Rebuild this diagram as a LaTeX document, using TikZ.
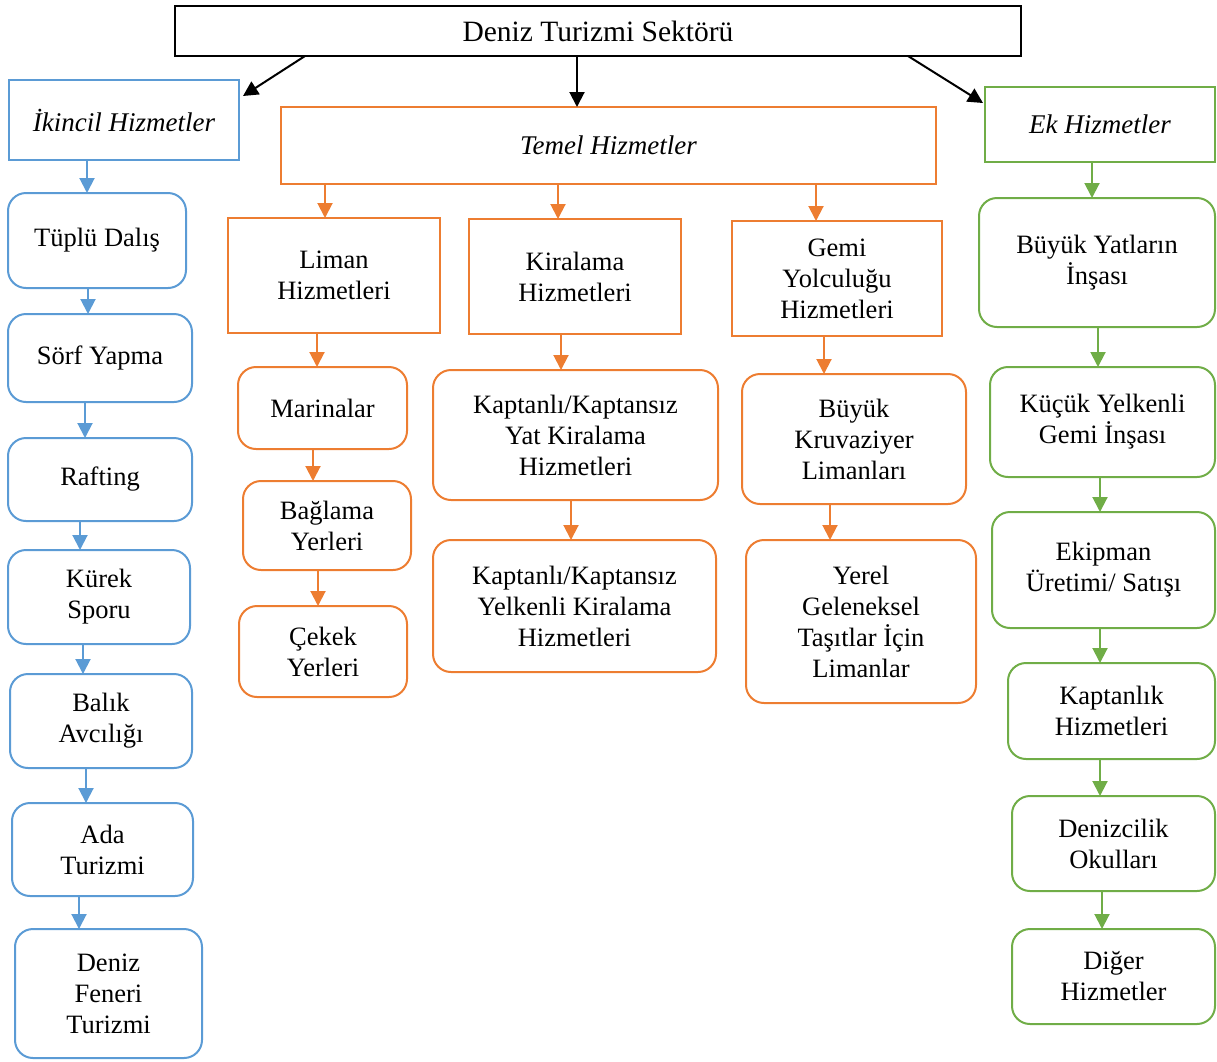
\documentclass[tikz,border=0pt]{standalone}
\usepackage{fontspec}
\setmainfont{Liberation Serif}
\usetikzlibrary{arrows.meta}

\definecolor{secBlue}{HTML}{5B9BD5}
\definecolor{coreOrange}{HTML}{ED7D31}
\definecolor{extraGreen}{HTML}{70AD47}

% box given by its left, top, right and bottom edges
\newcommand\placebox[7]{%
  \pgfmathsetmacro\boxW{#5-#3}\pgfmathsetmacro\boxH{#6-#4}%
  \pgfmathsetmacro\boxX{(#3+#5)/2}\pgfmathsetmacro\boxY{(#4+#6)/2}%
  \node[#2, minimum width=\boxW pt, minimum height=\boxH pt] (#1) at (\boxX,\boxY) {#7};}
% vertical connector below a box, shifted sideways from its centre
\newcommand\vlink[4]{\draw[#1] ([xshift=#4pt]#2.south) -- ([xshift=#4pt]#2.south |- #3.north);}

\tikzset{
  basebox/.style={draw, line width=2pt, align=center, inner sep=0pt, outer sep=0pt,
    font=\fontsize{26.5}{31}\selectfont},
  topbox/.style={basebox, draw=black, font=\fontsize{29.5}{34}\selectfont},
  headB/.style={basebox, draw=secBlue, font=\fontsize{27}{31}\selectfont\itshape},
  headO/.style={basebox, draw=coreOrange, font=\fontsize{27}{31}\selectfont\itshape},
  headG/.style={basebox, draw=extraGreen, font=\fontsize{27}{31}\selectfont\itshape},
  rectO/.style={basebox, draw=coreOrange},
  itemB/.style={basebox, draw=secBlue, rounded corners=18pt},
  itemO/.style={basebox, draw=coreOrange, rounded corners=18pt},
  itemG/.style={basebox, draw=extraGreen, rounded corners=18pt},
  tip/.style={-{Triangle[width=15pt,length=15pt]}},
  karr/.style={tip, draw=black, line width=2pt},
  barr/.style={tip, draw=secBlue, line width=2pt},
  oarr/.style={tip, draw=coreOrange, line width=2pt},
  garr/.style={tip, draw=extraGreen, line width=2pt},
}

\begin{document}
\begin{tikzpicture}[x=1pt,y=-1pt]
\useasboundingbox (0,0) rectangle (1217,1061);

% sector
\placebox{top}{topbox}{175}{6}{1021}{56}{Deniz Turizmi Sektörü}

% main groups
\placebox{ik}{headB}{9}{80}{239}{160}{İkincil Hizmetler}
\placebox{tem}{headO}{281}{107}{936}{184}{Temel Hizmetler}
\placebox{ek}{headG}{985}{87}{1215}{162}{Ek Hizmetler}

% secondary services
\placebox{tup}{itemB}{8}{193}{186}{288}{Tüplü Dalış}
\placebox{sorf}{itemB}{8}{314}{192}{402}{Sörf Yapma}
\placebox{raft}{itemB}{8}{438}{192}{521}{Rafting}
\placebox{kur}{itemB}{8}{550}{190}{644}{Kürek\\Sporu}
\placebox{bal}{itemB}{10}{674}{192}{768}{Balık\\Avcılığı}
\placebox{ada}{itemB}{12}{803}{193}{896}{Ada\\Turizmi}
\placebox{fen}{itemB}{15}{929}{202}{1058}{Deniz\\Feneri\\Turizmi}

% core services
\placebox{lim}{rectO}{228}{218}{440}{333}{Liman\\Hizmetleri}
\placebox{kir}{rectO}{469}{219}{681}{334}{Kiralama\\Hizmetleri}
\placebox{gem}{rectO}{732}{221}{942}{336}{Gemi\\Yolculuğu\\Hizmetleri}
\placebox{mar}{itemO}{238}{367}{407}{449}{Marinalar}
\placebox{bag}{itemO}{243}{481}{411}{570}{Bağlama\\Yerleri}
\placebox{cek}{itemO}{239}{606}{407}{697}{Çekek\\Yerleri}
\placebox{yat}{itemO}{433}{370}{718}{500}{Kaptanlı/Kaptansız\\Yat Kiralama\\Hizmetleri}
\placebox{yel}{itemO}{433}{540}{716}{672}{Kaptanlı/Kaptansız\\Yelkenli Kiralama\\Hizmetleri}
\placebox{kru}{itemO}{742}{374}{966}{504}{Büyük\\Kruvaziyer\\Limanları}
\placebox{yer}{itemO}{746}{540}{976}{703}{Yerel\\Geleneksel\\Taşıtlar İçin\\Limanlar}

% additional services
\placebox{byt}{itemG}{979}{198}{1215}{327}{Büyük Yatların\\İnşası}
\placebox{kuc}{itemG}{990}{367}{1215}{477}{Küçük Yelkenli\\Gemi İnşası}
\placebox{ekp}{itemG}{992}{512}{1215}{628}{Ekipman\\Üretimi/ Satışı}
\placebox{kap}{itemG}{1008}{663}{1215}{759}{Kaptanlık\\Hizmetleri}
\placebox{oku}{itemG}{1012}{796}{1215}{891}{Denizcilik\\Okulları}
\placebox{dig}{itemG}{1012}{929}{1215}{1024}{Diğer\\Hizmetler}

% sector to groups
\draw[karr] ([xshift=-293pt]top.south) -- ([xshift=4pt,yshift=-16pt]ik.north east);
\vlink{karr}{top}{tem}{-21}
\draw[karr] ([xshift=310pt]top.south) -- ([xshift=-2pt,yshift=-16pt]ek.north west);

% secondary chain
\vlink{barr}{ik}{tup}{-37}
\vlink{barr}{tup}{sorf}{-9}
\vlink{barr}{sorf}{raft}{-15}
\vlink{barr}{raft}{kur}{-20}
\vlink{barr}{kur}{bal}{-16}
\vlink{barr}{bal}{ada}{-15}
\vlink{barr}{ada}{fen}{-23.5}

% core tree
\vlink{oarr}{tem}{lim}{-283.5}
\vlink{oarr}{tem}{kir}{-50.5}
\vlink{oarr}{tem}{gem}{207.5}
\vlink{oarr}{lim}{mar}{-17}
\vlink{oarr}{mar}{bag}{-9.5}
\vlink{oarr}{bag}{cek}{-9}
\vlink{oarr}{kir}{yat}{-14}
\vlink{oarr}{yat}{yel}{-4.5}
\vlink{oarr}{gem}{kru}{-13}
\vlink{oarr}{kru}{yer}{-24}

% additional chain
\vlink{garr}{ek}{byt}{-8}
\vlink{garr}{byt}{kuc}{1}
\vlink{garr}{kuc}{ekp}{-2.5}
\vlink{garr}{ekp}{kap}{-3.5}
\vlink{garr}{kap}{oku}{-11.5}
\vlink{garr}{oku}{dig}{-11.5}
\end{tikzpicture}
\end{document}
